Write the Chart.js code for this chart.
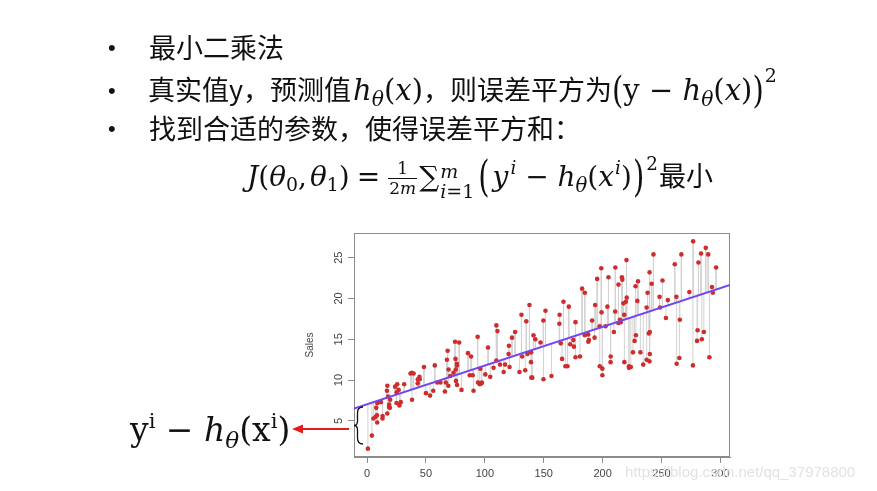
<!DOCTYPE html>
<html>
<head>
<meta charset="utf-8">
<script src="https://cdn.jsdelivr.net/npm/chart.js@4.4.0/dist/chart.umd.min.js"></script>
<style>
html,body{margin:0;padding:0;width:877px;height:491px;overflow:hidden;background:#fff;}
#wrap{position:absolute;left:0;top:0;width:877px;height:491px;}
.t{position:absolute;font-family:"Noto Sans CJK SC";font-size:27px;line-height:27px;color:#111;white-space:nowrap;z-index:2;}
.t span{line-height:0;}
.b{position:absolute;font-family:"Liberation Sans";font-size:22px;line-height:22px;color:#111;z-index:2;}
.m{font-family:"DejaVu Serif";font-style:italic;font-size:28px;}
.r{font-family:"DejaVu Serif";font-style:normal;font-size:28px;}
.l2 .m, .l2 .r{font-size:29px;}
.s{font-size:0.7em;vertical-align:-0.3em;}
.p{font-size:0.68em;vertical-align:0.62em;}
.l2 .r.p{font-size:19px;vertical-align:0.95em;margin-left:1px;}
.bp{display:inline-block;transform:scaleY(1.3);font-family:"DejaVu Serif";font-size:29px;}
.frac{display:inline-flex;flex-direction:column;align-items:center;vertical-align:middle;font-family:"DejaVu Serif";font-size:17px;margin:0 2px;}
.frac span{line-height:19px !important;}
.frac .top{padding:0 2px;}
.frac .bot{border-top:1px solid #111;padding:0 1px;}
.wm{position:absolute;left:625px;top:463px;font-family:"Liberation Sans";font-size:15px;color:#e2e2e2;z-index:2;white-space:nowrap;}
svg{position:absolute;left:0;top:0;z-index:3;}
</style>
</head>
<body>
<div id="wrap"><canvas id="c" width="877" height="491"></canvas></div>

<div class="b" style="left:108px;top:37px">•</div>
<div class="b" style="left:108px;top:80px">•</div>
<div class="b" style="left:108px;top:118px">•</div>

<div class="t" style="left:149px;top:33px">最小二乘法</div>
<div class="t l2" style="left:148px;top:75px">真实值y，预测值<span class="m" style="margin-left:2px">h<span class="s">θ</span></span><span class="r">(</span><span class="m">x</span><span class="r">)</span>，则误差平方为<span class="bp">(</span><span class="r">y − </span><span class="m">h<span class="s">θ</span></span><span class="r">(</span><span class="m">x</span><span class="r">)</span><span class="bp">)</span><span class="r p">2</span></div>
<div class="t" style="left:149px;top:114px">找到合适的参数，使得误差平方和：</div>
<div class="t" style="left:247px;top:159px"><span class="m">J</span><span class="r">(</span><span class="m">θ</span><span class="r s">0</span><span class="r" style="margin-right:3px">,</span><span class="m">θ</span><span class="r s">1</span><span class="r">)</span><span class="r" style="margin:0 6px 0 7px">=</span><span class="frac"><span class="top">1</span><span class="bot">2<i>m</i></span></span><span class="r">∑</span><span class="m" style="display:inline-block;position:relative;width:37px;height:1px;"><span style="position:absolute;left:1px;top:-23px;font-size:19px;line-height:19px">m</span><span style="position:absolute;left:1px;top:-3px;font-size:19px;line-height:19px">i<span style="font-style:normal">=1</span></span></span><span class="bp" style="transform:scaleY(1.45);margin:0 3px 0 2px">(</span><span class="m">y</span><span class="m p" style="margin-left:2px">i</span><span class="r"> − </span><span class="m">h<span class="s">θ</span></span><span class="r">(</span><span class="m">x</span><span class="m p" style="margin-left:1px">i</span><span class="r">)</span><span class="bp" style="transform:scaleY(1.45);margin:0 2px 0 1px">)</span><span class="r p" style="vertical-align:0.85em">2</span><span style="margin-left:1px">最小</span></div>

<div class="t" style="left:130px;top:416px;"><span class="r" style="font-size:33px">y</span><span class="r p" style="font-size:21px">i</span><span class="r" style="font-size:33px"> − </span><span class="m" style="font-size:33px">h<span class="s">θ</span></span><span class="r" style="font-size:33px">(x</span><span class="r p" style="font-size:21px">i</span><span class="r" style="font-size:33px">)</span></div>

<div class="wm">https://blog.csdn.net/qq_37978800</div>

<svg width="877" height="491">
  <line x1="349" y1="429" x2="300" y2="429" stroke="#e21b1b" stroke-width="2"/>
  <polygon points="292,429 303,424.5 303,433.5" fill="#e21b1b"/>
  <path d="M363 407 Q357.5 407 357.5 413 L357.5 421 Q357.5 425.5 354 425.5 Q357.5 425.5 357.5 430 L357.5 438 Q357.5 444 363 444" fill="none" stroke="#111" stroke-width="1.3"/>
</svg>

<script>
// Advertising data: TV budget (x) and Sales (y)
const tvSpend = [230.1,44.5,17.2,151.5,180.8,8.7,57.5,120.2,8.6,199.8,66.1,214.7,23.8,97.5,204.1,195.4,67.8,281.4,69.2,147.3,218.4,237.4,13.2,228.3,62.3,262.9,142.9,240.1,248.8,70.6,292.9,112.9,97.2,265.6,95.7,290.7,266.9,74.7,43.1,228,202.5,177,293.6,206.9,25.1,175.1,89.7,239.9,227.2,66.9,199.8,100.4,216.4,182.6,262.7,198.9,7.3,136.2,210.8,210.7,53.5,261.3,239.3,102.7,131.1,69,31.5,139.3,237.4,216.8,199.1,109.8,26.8,129.4,213.4,16.9,27.5,120.5,5.4,116,76.4,239.8,75.3,68.4,213.5,193.2,76.3,110.7,88.3,109.8,134.3,28.6,217.7,250.9,107.4,163.3,197.6,184.9,289.7,135.2,222.4,296.4,280.2,187.9,238.2,137.9,25,90.4,13.1,255.4,225.8,241.7,175.7,209.6,78.2,75.1,139.2,76.4,125.7,19.4,141.3,18.8,224,123.1,229.5,87.2,7.8,80.2,220.3,59.6,0.7,265.2,8.4,219.8,36.9,48.3,25.6,273.7,43,184.9,73.4,193.7,220.5,104.6,96.2,140.3,240.1,243.2,38,44.7,280.7,121,197.6,171.3,187.8,4.1,93.9,149.8,11.7,131.7,172.5,85.7,188.4,163.5,117.2,234.5,17.9,206.8,215.4,284.3,50,164.5,19.6,168.4,222.4,276.9,248.4,170.2,276.7,165.6,156.6,218.5,56.2,287.6,253.8,205,139.5,191.1,286,18.7,39.5,75.5,17.2,166.8,149.7,38.2,94.2,177,283.6,232.1];
const salesValues = [22.1,10.4,9.3,18.5,12.9,7.2,11.8,13.2,4.8,10.6,8.6,17.4,9.2,9.7,19,22.4,12.5,24.4,11.3,14.6,18,12.5,5.6,15.5,9.7,12,15,15.9,18.9,10.5,21.4,11.9,9.6,17.4,9.5,12.8,25.4,14.7,10.1,21.5,16.6,17.1,20.7,12.9,8.5,14.9,10.6,23.2,14.8,9.7,11.4,10.7,22.6,21.2,20.2,23.7,5.5,13.2,23.8,18.4,8.1,24.2,15.7,14,18,9.3,9.5,13.4,18.9,22.3,18.3,12.4,8.8,11,17,8.7,6.9,14.2,5.3,11,11.8,12.3,11.3,13.6,21.7,15.2,12,16,12.9,16.7,11.2,7.3,19.4,22.2,11.5,16.9,11.7,15.5,25.4,17.2,11.7,23.8,14.8,14.7,20.7,19.2,7.2,8.7,5.3,19.8,13.4,21.8,14.1,15.9,14.6,12.6,12.2,9.4,15.9,6.6,15.5,7,11.6,15.2,19.7,10.6,6.6,8.8,24.7,9.7,1.6,12.7,5.7,19.6,10.8,11.6,9.5,20.8,9.6,20.7,10.9,19.2,20.1,10.4,11.4,10.3,13.2,25.4,10.9,10.1,16.1,11.6,16.6,19,15.6,3.2,15.3,10.1,7.3,12.9,14.4,13.3,14.9,18,11.9,11.9,8,12.2,17.1,15,8.4,14.5,7.6,11.7,11.5,27,20.2,11.7,11.8,12.6,10.5,12.2,8.7,26.2,17.6,22.6,10.3,17.3,15.9,6.7,10.8,9.9,5.9,19.6,17.3,7.6,9.7,12.8,25.5,13.4];
// fitted line
const fitIntercept = 7.03;
const fitSlope = 0.0475;
const xRange = [-11.1, 308.2];
const yRange = [0.58, 28.02];
const xTickValues = [0, 50, 100, 150, 200, 250, 300];
const yTickValues = [5, 10, 15, 20, 25];
const yAxisTitle = 'Sales';

const fitAt = x => fitIntercept + fitSlope * x;
const points = tvSpend.map((x, i) => ({x, y: salesValues[i]}));
const residuals = [];
tvSpend.forEach((x, i) => {
  residuals.push({x, y: salesValues[i]});
  residuals.push({x, y: fitAt(x)});
  residuals.push({x: null, y: null});
});
const fitLine = xRange.map(x => ({x, y: fitAt(x)}));

const axisGray = '#8c8c8c';
const boxPlugin = {
  id: 'box',
  beforeDatasetsDraw(chart) {
    const {ctx, chartArea: a} = chart;
    ctx.save();
    ctx.strokeStyle = axisGray;
    ctx.lineWidth = 1;
    ctx.strokeRect(a.left + 0.5, a.top + 0.5, a.right - a.left - 1, a.bottom - a.top - 1);
    ctx.restore();
  }
};

new Chart(document.getElementById('c'), {
  type: 'scatter',
  data: {
    datasets: [
      {data: fitLine, showLine: true, borderColor: '#7446f2', borderWidth: 2, pointRadius: 0, order: 0},
      {data: points, pointRadius: 2.3, pointBackgroundColor: '#cd2d2d', pointBorderWidth: 0, order: 1},
      {data: residuals, showLine: true, spanGaps: false, borderColor: '#d2d2d2', borderWidth: 1, pointRadius: 0, order: 2}
    ]
  },
  options: {
    responsive: false,
    animation: false,
    events: [],
    layout: {padding: {left: 304, top: 233, right: 147, bottom: 0}},
    plugins: {legend: {display: false}, tooltip: {enabled: false}},
    scales: {
      x: {
        type: 'linear', min: xRange[0], max: xRange[1],
        afterBuildTicks: s => { s.ticks = xTickValues.map(v => ({value: v})); },
        afterFit: s => { s.height = 34; },
        grid: {drawOnChartArea: false, drawTicks: true, tickLength: 6, color: axisGray},
        border: {display: true, color: axisGray},
        ticks: {font: {family: 'Liberation Sans', size: 11}, color: '#444', padding: 4, maxRotation: 0}
      },
      y: {
        type: 'linear', min: yRange[0], max: yRange[1],
        afterBuildTicks: s => { s.ticks = yTickValues.map(v => ({value: v})); },
        afterFit: s => { s.width = 50; },
        grid: {drawOnChartArea: false, drawTicks: true, tickLength: 6, color: axisGray},
        border: {display: true, color: axisGray},
        ticks: {font: {family: 'Liberation Sans', size: 11}, color: '#444', padding: 3, minRotation: 90, maxRotation: 90, crossAlign: 'center'},
        title: {display: true, text: yAxisTitle, font: {family: 'Liberation Sans', size: 10}, color: '#444', padding: 0}
      }
    }
  },
  plugins: [boxPlugin]
});
</script>
</body>
</html>
